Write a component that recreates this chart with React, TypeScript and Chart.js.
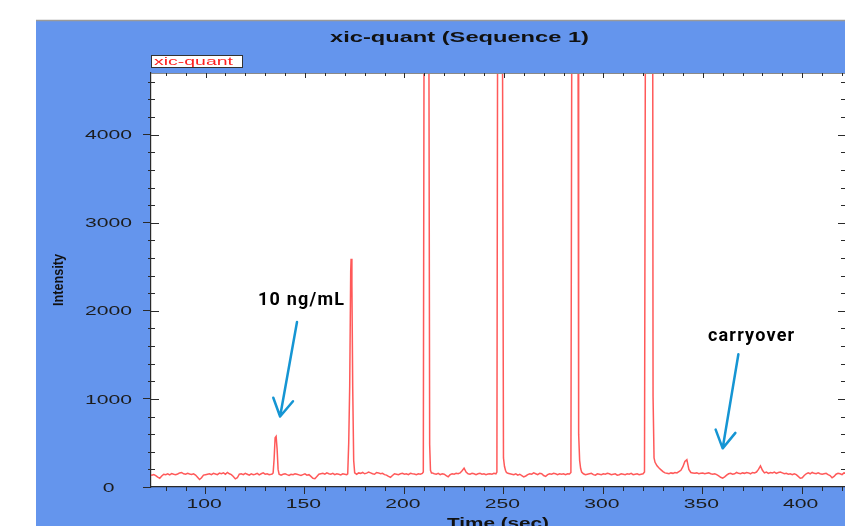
import React, { useEffect, useRef } from 'react';
import { Chart, registerables } from 'chart.js';

Chart.register(...registerables);

// ---------- texts ----------
const chartTitle = 'xic-quant (Sequence 1)';
const seriesName = 'xic-quant';
const xAxisTitle = 'Time (sec)';
const yAxisTitle = 'Intensity';

// ---------- axes ----------
const xRange = [72.6, 421.5];
const yRange = [0, 4700];
const xTickValues = [100, 150, 200, 250, 300, 350, 400];
const yTickValues = [0, 1000, 2000, 3000, 4000];
const xMajorStep = 50;
const xMinorStep = 10;
const yMajorStep = 1000;
const yMinorStep = 200;

// ---------- trace ----------
// baseline stretches sampled once per second, starting at these times (sec)
const baselineStartSec = [71, 138, 176, 214, 252, 290, 332];
const baselineA = [
  138, 140, 135, 142, 130, 112, 100, 125, 145, 140,
  150, 138, 152, 145, 140, 148, 160, 165, 150, 145,
  155, 148, 142, 150, 135, 110, 85, 105, 135, 140,
  145, 150, 140, 155, 148, 140, 158, 150, 160, 145,
  165, 150, 140, 120, 92, 105, 145, 150, 140, 155,
  145, 135, 150, 140, 145, 155, 138, 150, 160, 145,
  150, 140, 145,
];
const baselineB = [
  135, 145, 150, 140, 132, 145, 140, 150, 145, 138,
  130, 140, 150, 135, 140, 120, 100, 95, 120, 145,
  150, 155, 145, 160, 150, 145, 155, 140, 150, 145,
  138, 150, 145, 140,
];
const baselineC = [
  145, 160, 155, 165, 150, 158, 170, 160, 150, 145,
  165, 160, 150, 155, 140, 135, 120, 110, 130, 150,
  145, 140, 150, 155, 145, 150, 140, 155, 150, 148,
  140, 150, 145, 155,
];
const baselineD = [
  160, 150, 145, 155, 140, 150, 145, 130, 115, 140,
  150, 145, 155, 150, 160, 185, 215, 170, 150, 145,
  155, 150, 140, 150, 155, 145, 150, 140, 148, 150,
  145, 155, 150,
];
const baselineE = [
  155, 150, 145, 140, 150, 135, 145, 130, 115, 125,
  140, 150, 145, 160, 150, 140, 155, 150, 130, 120,
  140, 150, 145, 155, 150, 140, 150, 145, 150, 140,
  150, 148,
];
const baselineF = [
  150, 140, 145, 150, 155, 140, 135, 150, 145, 140,
  150, 145, 155, 150, 140, 145, 150, 135, 140, 150,
  145, 140, 150, 145, 155, 140, 145, 150, 140, 145,
  150,
];
const baselineG = [
  155, 150, 160, 155, 165, 160, 175, 190, 230, 290,
  310, 200, 165, 160, 155, 160, 150, 155, 158, 150,
  155, 160, 150, 145, 150, 140, 125, 110, 100, 115,
  135, 150, 155, 145, 150, 165, 155, 150, 160, 155,
  165, 160, 150, 165, 160, 170, 200, 240, 190, 160,
  170, 155, 165, 160, 170, 155, 165, 170, 160, 150,
  155, 145, 150, 140, 150, 140, 120, 100, 105, 130,
  150, 160, 150, 165, 155, 150, 160, 150, 145, 150,
  155, 140, 130, 105, 120, 145, 155, 150, 140, 160,
  155, 150,
];
// peaks: [time (sec), intensity]
const peak135: [number, number][] = [
  [133.5, 148], [134, 160], [134.5, 320], [135, 560], [135.5, 575], [136, 430], [136.5, 200], [137, 145],
];
const peak173: [number, number][] = [
  [171.5, 150], [172, 500], [172.5, 1150], [173, 2450], [173.2, 2590], [173.6, 2300], [174, 1140], [174.5, 300], [175, 160],
];
const peak211: [number, number][] = [
  [209.5, 170], [209.9, 5500], [210.3, 9000], [212, 9000], [212.3, 5200], [212.7, 480], [213.1, 190], [213.6, 160],
];
const peak248: [number, number][] = [
  [246.5, 170], [246.85, 5200], [247.2, 9000], [249, 9000], [249.3, 5200], [249.8, 330], [250.3, 235], [250.8, 190], [251.3, 165],
];
const peak286: [number, number][] = [
  [283.7, 165], [284.15, 5200], [284.5, 9000], [287, 9000], [287.3, 5000], [287.6, 600], [288.1, 300], [288.6, 210], [289.1, 170],
];
const peak323: [number, number][] = [
  [320.7, 170], [321.15, 5200], [321.5, 9000], [324.6, 9000], [324.8, 6000], [325, 1030], [325.5, 330], [326, 280],
  [327, 240], [328, 215], [329, 195], [330, 175], [331, 160],
];

// ---------- annotations (data coordinates) ----------
const annotationTexts = ['10 ng/mL', 'carryover'];
const annotationTextSec = [126.4, 352.6];
const annotationTextIntensity = [2066, 1661];
const arrowFromSec = [146.0, 367.9];
const arrowFromIntensity = [1873, 1507];
const arrowToSec = [137.5, 360.0];
const arrowToIntensity = [800, 439];

// ---------- styles ----------
const PANEL_BLUE = '#6495ed';
const TRACE_RED = 'rgba(255, 60, 60, 0.85)';
const ARROW_BLUE = '#1595d3';
const AXIS_DARK = '#2a2a2a';
const TICK_FONT = '12.5px "Liberation Sans", Arial, sans-serif';
const TICK_STRETCH = 1.69;

function buildTrace() {
  const base = [baselineA, baselineB, baselineC, baselineD, baselineE, baselineF, baselineG];
  const peaks = [peak135, peak173, peak211, peak248, peak286, peak323];
  const pts: { x: number; y: number }[] = [];
  base.forEach((vals, i) => {
    vals.forEach((v, k) => pts.push({ x: baselineStartSec[i] + k, y: v }));
    if (peaks[i]) peaks[i].forEach(([t, v]) => pts.push({ x: t, y: v }));
  });
  return pts;
}

function scaledText(
  ctx: CanvasRenderingContext2D, text: string, x: number, y: number,
  font: string, sx: number, align: 'left' | 'center' | 'right', color: string,
) {
  ctx.save();
  ctx.font = font;
  ctx.fillStyle = color;
  ctx.textAlign = 'left';
  ctx.textBaseline = 'alphabetic';
  const w = ctx.measureText(text).width * sx;
  const left = align === 'center' ? x - w / 2 : align === 'right' ? x - w : x;
  ctx.translate(left, y);
  ctx.scale(sx, 1);
  ctx.fillText(text, 0, 0);
  ctx.restore();
}

function fitText(
  ctx: CanvasRenderingContext2D, text: string, x: number, y: number,
  font: string, width: number, align: 'left' | 'center', color: string,
) {
  ctx.save();
  ctx.font = font;
  const sx = width / ctx.measureText(text).width;
  ctx.restore();
  scaledText(ctx, text, x, y, font, sx, align, color);
}

const decorPlugin = {
  id: 'decor',
  beforeDraw(chart: any) {
    const { ctx, chartArea: a, width, height } = chart;
    ctx.save();
    ctx.fillStyle = '#ffffff';
    ctx.fillRect(0, 0, width, height);
    ctx.fillStyle = PANEL_BLUE;
    ctx.fillRect(36, 20, width - 36, height - 20);
    ctx.strokeStyle = '#9a9a9a';
    ctx.lineWidth = 1.5;
    ctx.beginPath();
    ctx.moveTo(36, 20.5);
    ctx.lineTo(width, 20.5);
    ctx.stroke();
    ctx.fillStyle = '#ffffff';
    ctx.fillRect(a.left, a.top, a.right - a.left, a.bottom - a.top);
    ctx.restore();
  },
  afterDraw(chart: any) {
    const { ctx, chartArea: a, scales } = chart;
    const x = scales.x;
    const y = scales.y;
    ctx.save();
    // top border of plot
    ctx.strokeStyle = '#8a8a8a';
    ctx.lineWidth = 1;
    ctx.beginPath();
    ctx.moveTo(a.left, a.top + 0.5);
    ctx.lineTo(a.right, a.top + 0.5);
    ctx.stroke();

    // minor / mirrored tick marks
    ctx.strokeStyle = AXIS_DARK;
    ctx.lineWidth = 1;
    ctx.beginPath();
    for (let v = yRange[0] + yMinorStep; v <= yRange[1]; v += yMinorStep) {
      const py = Math.round(y.getPixelForValue(v)) + 0.5;
      const major = v % yMajorStep === 0;
      if (major) {
        ctx.moveTo(a.left, py); ctx.lineTo(a.left + 8, py);
        ctx.moveTo(a.right - 7, py); ctx.lineTo(a.right, py);
      } else {
        ctx.moveTo(a.left - 3, py); ctx.lineTo(a.left + 4, py);
        ctx.moveTo(a.right - 4, py); ctx.lineTo(a.right, py);
      }
    }
    for (let t = Math.ceil(xRange[0] / xMinorStep) * xMinorStep; t <= xRange[1]; t += xMinorStep) {
      const px = Math.round(x.getPixelForValue(t)) + 0.5;
      const major = t % xMajorStep === 0;
      if (!major) {
        ctx.moveTo(px, a.bottom); ctx.lineTo(px, a.bottom + 4);
      }
      ctx.moveTo(px, a.top); ctx.lineTo(px, a.top + (major ? 5 : 3));
    }
    ctx.stroke();

    // tick labels from the scales' ticks
    y.ticks.forEach((tk: any) => {
      const py = y.getPixelForValue(tk.value);
      scaledText(ctx, String(tk.value), 108.5, py + 4.6, TICK_FONT, TICK_STRETCH, 'center', '#1c1c1c');
    });
    x.ticks.forEach((tk: any) => {
      const px = x.getPixelForValue(tk.value);
      scaledText(ctx, String(tk.value), px - 1.5, 507.6, TICK_FONT, TICK_STRETCH, 'center', '#1c1c1c');
    });

    // title
    fitText(ctx, chartTitle, 459.5, 42, 'bold 14.5px "Liberation Sans", Arial, sans-serif', 259, 'center', '#111111');

    // legend box
    ctx.fillStyle = '#ffffff';
    ctx.fillRect(a.left, 55, 92, 13);
    ctx.strokeStyle = '#333333';
    ctx.lineWidth = 1;
    ctx.strokeRect(a.left + 0.5, 55.5, 91, 12);
    fitText(ctx, seriesName, a.left + 3, 64.5, '11px "Liberation Sans", Arial, sans-serif', 79, 'left', '#ff1f1f');

    // axis titles
    fitText(ctx, xAxisTitle, (a.left + a.right) / 2, 527.5, 'bold 14.5px "Liberation Sans", Arial, sans-serif', 102, 'center', '#111111');
    ctx.save();
    ctx.translate(62.5, 280);
    ctx.rotate(-Math.PI / 2);
    fitText(ctx, yAxisTitle, 0, 0, 'bold 14px "Liberation Sans", Arial, sans-serif', 52, 'center', '#111111');
    ctx.restore();

    // annotations
    for (let i = 0; i < annotationTexts.length; i++) {
      const tx = x.getPixelForValue(annotationTextSec[i]);
      const ty = y.getPixelForValue(annotationTextIntensity[i]);
      ctx.save();
      ctx.font = 'bold 18px Roboto, "Liberation Sans", sans-serif';
      (ctx as any).letterSpacing = '1.2px';
      ctx.fillStyle = '#000000';
      ctx.textBaseline = 'alphabetic';
      ctx.textAlign = 'left';
      ctx.fillText(annotationTexts[i], tx, ty);
      ctx.restore();

      const fx = x.getPixelForValue(arrowFromSec[i]);
      const fy = y.getPixelForValue(arrowFromIntensity[i]);
      const ex = x.getPixelForValue(arrowToSec[i]);
      const ey = y.getPixelForValue(arrowToIntensity[i]);
      const ang = Math.atan2(fy - ey, fx - ex);
      const wing = 20;
      const spread = Math.PI / 6;
      ctx.save();
      ctx.strokeStyle = ARROW_BLUE;
      ctx.lineWidth = 2.5;
      ctx.lineCap = 'round';
      ctx.lineJoin = 'round';
      ctx.beginPath();
      ctx.moveTo(fx, fy);
      ctx.lineTo(ex, ey);
      ctx.moveTo(ex + wing * Math.cos(ang - spread), ey + wing * Math.sin(ang - spread));
      ctx.lineTo(ex, ey);
      ctx.lineTo(ex + wing * Math.cos(ang + spread), ey + wing * Math.sin(ang + spread));
      ctx.stroke();
      ctx.restore();
    }
    ctx.restore();
  },
};

export default function App() {
  const canvasRef = useRef<HTMLCanvasElement | null>(null);

  useEffect(() => {
    const canvas = canvasRef.current;
    if (!canvas) return;
    const chart = new Chart(canvas, {
      type: 'line',
      data: {
        datasets: [
          {
            label: seriesName,
            data: buildTrace(),
            borderColor: TRACE_RED,
            borderWidth: 1.5,
            pointRadius: 0,
            tension: 0,
            fill: false,
          },
        ],
      },
      options: {
        animation: false,
        responsive: false,
        maintainAspectRatio: false,
        devicePixelRatio: 1,
        events: [],
        layout: { padding: { top: 73, left: 0, right: 0, bottom: 0 } },
        plugins: {
          legend: { display: false },
          title: { display: false },
          tooltip: { enabled: false },
        },
        scales: {
          x: {
            type: 'linear',
            min: xRange[0],
            max: xRange[1],
            afterFit: (s: any) => { s.height = 39; },
            afterBuildTicks: (s: any) => { s.ticks = xTickValues.map((v) => ({ value: v })); },
            ticks: { display: false, autoSkip: false },
            grid: { drawOnChartArea: false, tickLength: 7, color: AXIS_DARK },
            border: { color: AXIS_DARK, width: 1.2 },
          },
          y: {
            type: 'linear',
            min: yRange[0],
            max: yRange[1],
            afterFit: (s: any) => { s.width = 151; },
            afterBuildTicks: (s: any) => { s.ticks = yTickValues.map((v) => ({ value: v })); },
            ticks: { display: false, autoSkip: false },
            grid: { drawOnChartArea: false, tickLength: 8, color: AXIS_DARK },
            border: { color: AXIS_DARK, width: 1.2 },
          },
        },
      },
      plugins: [decorPlugin],
    } as any);
    return () => chart.destroy();
  }, []);

  return (
    <div style={{ position: 'fixed', left: 0, top: 0, width: 845, height: 526 }}>
      <canvas ref={canvasRef} width={845} height={526} style={{ display: 'block', width: 845, height: 526 }} />
    </div>
  );
}
